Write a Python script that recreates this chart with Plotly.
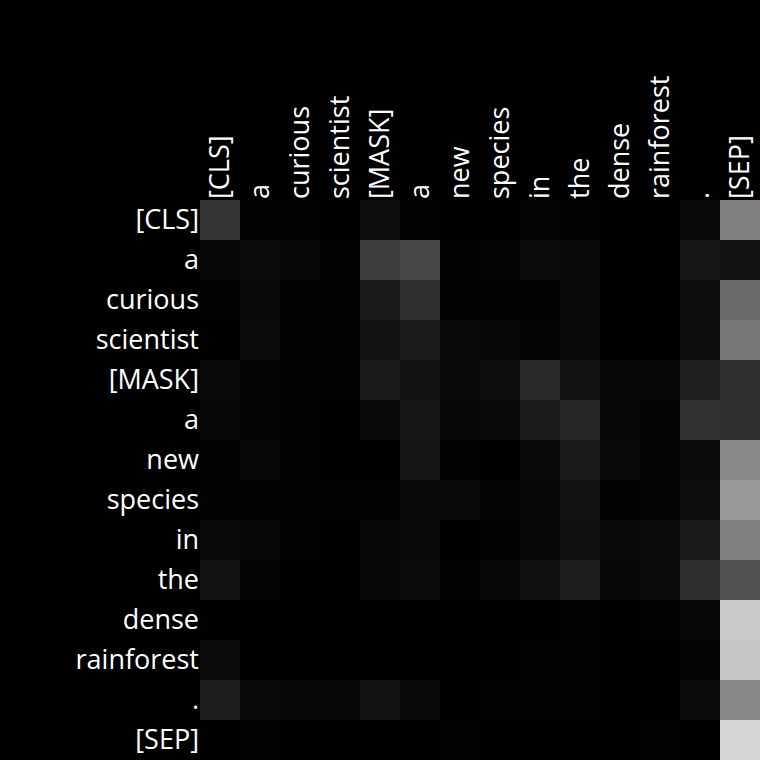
import plotly.graph_objects as go

tokens = ["[CLS]", "a", "curious", "scientist", "[MASK]", "a", "new", "species",
          "in", "the", "dense", "rainforest", ".", "[SEP]"]

# attention weights (rows = query token, cols = key token)
row_cls        = [0.200, 0.012, 0.008, 0.004, 0.051, 0.008, 0.004, 0.004, 0.016, 0.008, 0.004, 0.004, 0.039, 0.502]
row_a1         = [0.024, 0.047, 0.024, 0.008, 0.235, 0.275, 0.008, 0.016, 0.047, 0.031, 0.004, 0.004, 0.086, 0.071]
row_curious    = [0.008, 0.039, 0.012, 0.008, 0.098, 0.184, 0.012, 0.012, 0.008, 0.031, 0.004, 0.004, 0.055, 0.412]
row_scientist  = [0.004, 0.043, 0.012, 0.008, 0.067, 0.106, 0.039, 0.024, 0.020, 0.031, 0.004, 0.004, 0.055, 0.463]
row_mask       = [0.031, 0.016, 0.012, 0.008, 0.094, 0.071, 0.031, 0.055, 0.157, 0.075, 0.024, 0.027, 0.122, 0.188]
row_a2         = [0.024, 0.016, 0.008, 0.004, 0.039, 0.086, 0.024, 0.039, 0.110, 0.149, 0.024, 0.020, 0.196, 0.188]
row_new        = [0.008, 0.024, 0.008, 0.004, 0.004, 0.082, 0.008, 0.004, 0.031, 0.098, 0.035, 0.020, 0.043, 0.533]
row_species    = [0.012, 0.012, 0.008, 0.008, 0.012, 0.031, 0.031, 0.016, 0.024, 0.071, 0.008, 0.016, 0.055, 0.600]
row_in         = [0.039, 0.024, 0.008, 0.004, 0.024, 0.035, 0.004, 0.008, 0.024, 0.063, 0.031, 0.047, 0.094, 0.502]
row_the        = [0.067, 0.020, 0.004, 0.004, 0.024, 0.047, 0.008, 0.024, 0.059, 0.118, 0.024, 0.047, 0.180, 0.314]
row_dense      = [0.004, 0.004, 0.004, 0.004, 0.004, 0.004, 0.004, 0.004, 0.004, 0.008, 0.004, 0.008, 0.027, 0.796]
row_rainforest = [0.043, 0.004, 0.004, 0.004, 0.004, 0.004, 0.004, 0.004, 0.008, 0.012, 0.004, 0.004, 0.020, 0.776]
row_period     = [0.118, 0.031, 0.024, 0.027, 0.071, 0.031, 0.004, 0.008, 0.012, 0.012, 0.004, 0.004, 0.043, 0.529]
row_sep        = [0.004, 0.008, 0.004, 0.004, 0.004, 0.004, 0.008, 0.004, 0.004, 0.004, 0.004, 0.012, 0.004, 0.835]

attention = [row_cls, row_a1, row_curious, row_scientist, row_mask, row_a2, row_new,
             row_species, row_in, row_the, row_dense, row_rainforest, row_period, row_sep]

idx = list(range(len(tokens)))

fig = go.Figure(go.Heatmap(
    z=attention,
    x=idx,
    y=idx,
    zmin=0, zmax=1,
    colorscale=[[0, "black"], [1, "white"]],
    showscale=False,
    xgap=0, ygap=0,
))

fig.update_layout(
    width=760, height=760,
    margin=dict(l=200, r=0, t=200, b=0),
    paper_bgcolor="black",
    plot_bgcolor="black",
    font=dict(family="Open Sans", size=27, color="white"),
    xaxis=dict(
        side="top", tickmode="array", tickvals=idx, ticktext=tokens,
        tickangle=-90, showgrid=False, zeroline=False, ticks="",
        range=[-0.5, 13.5],
    ),
    yaxis=dict(
        tickmode="array", tickvals=idx, ticktext=tokens,
        autorange="reversed", showgrid=False, zeroline=False, ticks="",
    ),
)

fig.write_html(
    "out.html",
    config={"displayModeBar": False},
    post_script="document.body.style.margin='0';document.body.style.overflow='hidden';document.body.style.background='black';",
)
